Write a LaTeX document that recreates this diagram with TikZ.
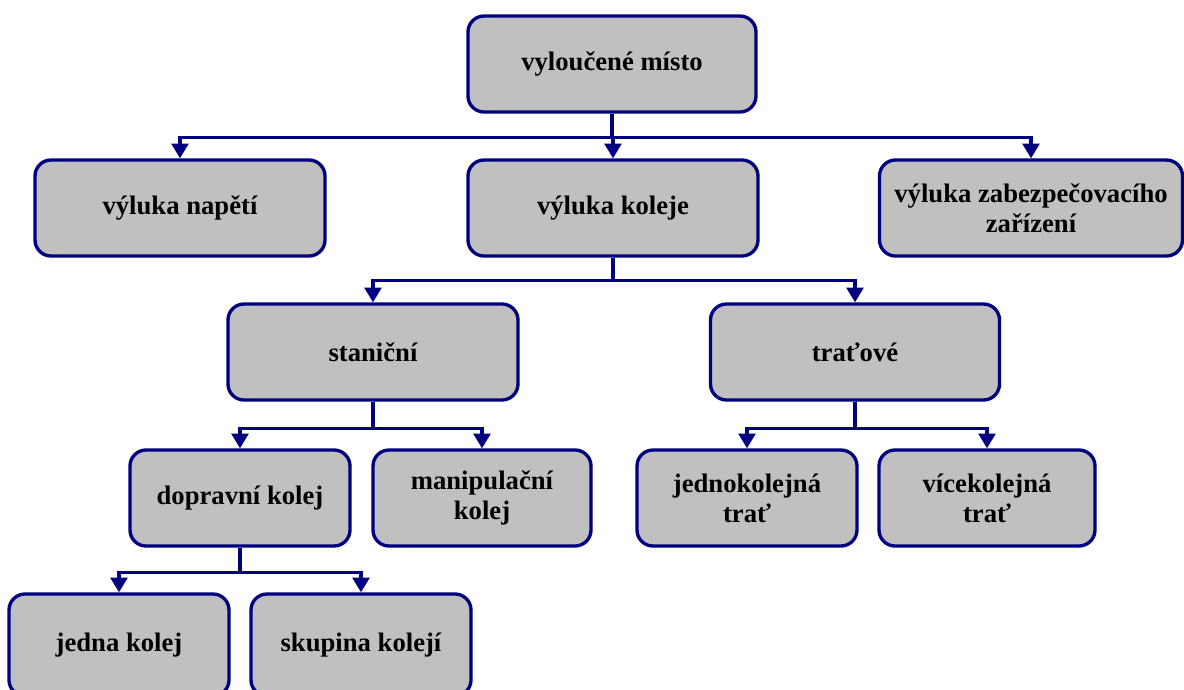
\documentclass[tikz,border=0pt]{standalone}
\usepackage{fontspec}
\setmainfont{Liberation Serif}
\usetikzlibrary{arrows.meta}
\definecolor{navyb}{HTML}{000080}
\definecolor{boxgray}{HTML}{C0C0C0}
\tikzset{
  box/.style={draw=navyb, fill=boxgray, line width=2.5pt, rounded corners=12pt,
    minimum height=96*0.75pt, inner sep=2pt, align=center,
    font=\fontsize{20}{22.5}\selectfont\bfseries},
  conn/.style={draw=navyb, line width=2.5pt, -{Triangle[width=12.5pt,length=11pt]}}
}
\begin{document}
\begin{tikzpicture}[x=0.75pt,y=-0.75pt]
\useasboundingbox (0,0) rectangle (1184,689);
\node[box, minimum width=288*0.75pt] (root) at (612,64) {vyloučené místo};
\node[box, minimum width=290*0.75pt] (nap) at (180,208) {výluka napětí};
\node[box, minimum width=290*0.75pt] (kol) at (613,208) {výluka koleje};
\node[box, minimum width=303*0.75pt] (zab) at (1031,208) {výluka zabezpečovacího\\zařízení};
\node[box, minimum width=290*0.75pt] (sta) at (373,352) {staniční};
\node[box, minimum width=289*0.75pt] (trt) at (855,352) {traťové};
\node[box, minimum width=220*0.75pt] (dop) at (240,498) {dopravní kolej};
\node[box, minimum width=218*0.75pt] (man) at (482,498) {manipulační\\kolej};
\node[box, minimum width=220*0.75pt] (jed) at (747,498) {jednokolejná\\trať};
\node[box, minimum width=216*0.75pt] (vic) at (987,498) {vícekolejná\\trať};
\node[box, minimum width=220*0.75pt, minimum height=102*0.75pt] (jk) at (119,645) {jedna kolej};
\node[box, minimum width=220*0.75pt, minimum height=102*0.75pt] (sk) at (361,645) {skupina kolejí};
\draw[conn] (root.south) -- ++(0,24) -| (nap.north);
\draw[conn] (root.south) -- ++(0,24) -| (kol.north);
\draw[conn] (root.south) -- ++(0,24) -| (zab.north);
\draw[conn] (kol.south) -- ++(0,23) -| (sta.north);
\draw[conn] (kol.south) -- ++(0,23) -| (trt.north);
\draw[conn] (sta.south) -- ++(0,27) -| (dop.north);
\draw[conn] (sta.south) -- ++(0,27) -| (man.north);
\draw[conn] (trt.south) -- ++(0,27) -| (jed.north);
\draw[conn] (trt.south) -- ++(0,27) -| (vic.north);
\draw[conn] (dop.south) -- ++(0,25) -| (jk.north);
\draw[conn] (dop.south) -- ++(0,25) -| (sk.north);
\end{tikzpicture}
\end{document}
